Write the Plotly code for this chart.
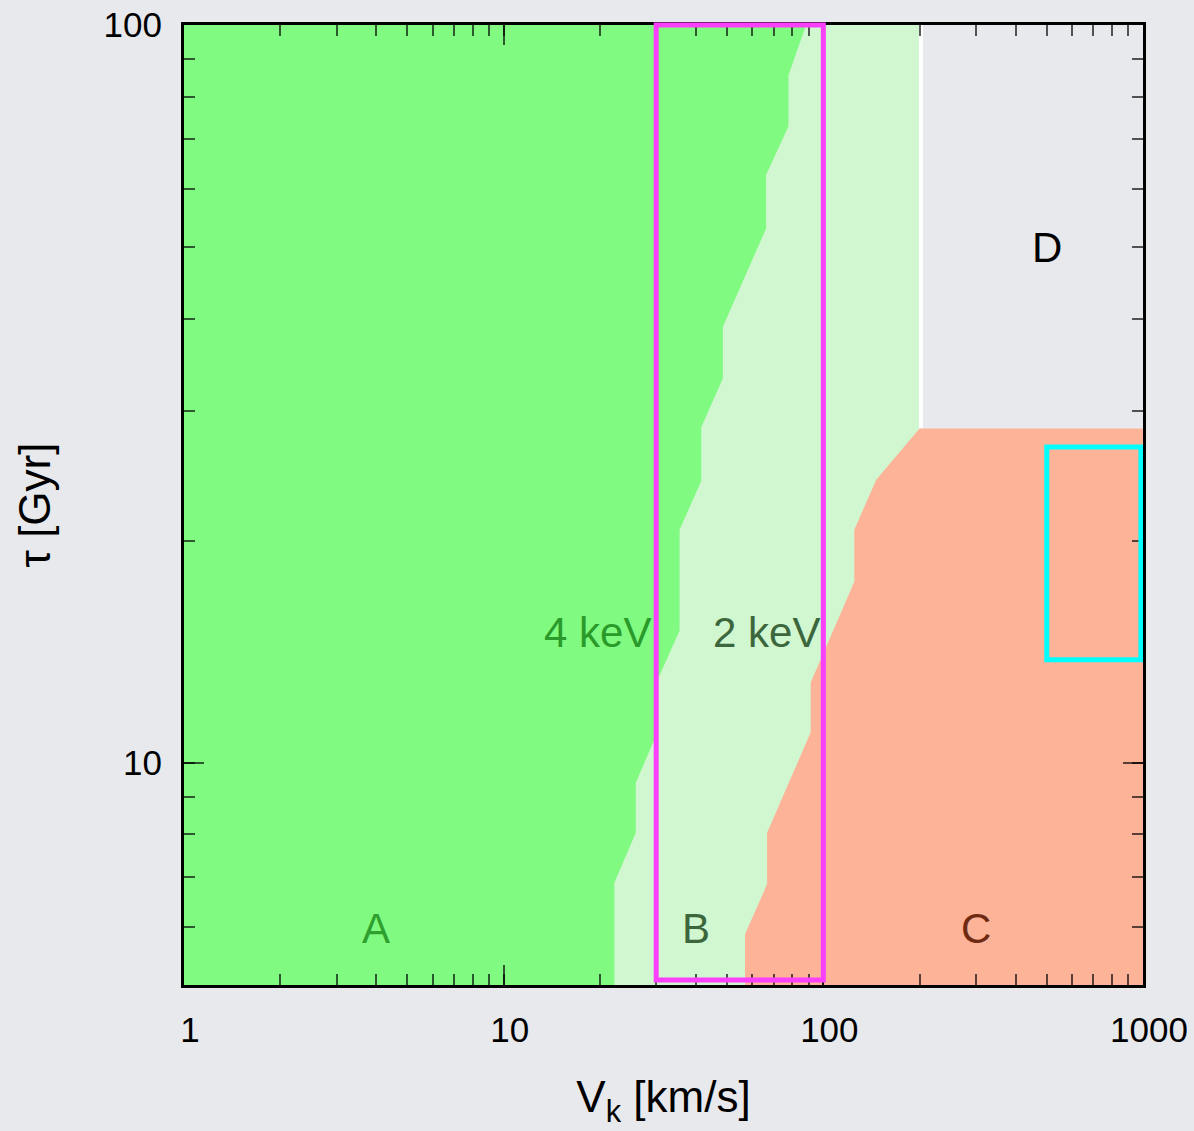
import numpy as np
import plotly.graph_objects as go

# Axis limits: kick velocity V_k [km/s] and lifetime tau [Gyr]
v_limits = [1, 1000]
tau_limits = [5, 100]

# Boundary of the 4 keV region (top to bottom)
kev4_v = [88.3, 77.8, 77.8, 66.2, 66.2, 48.5, 48.5, 41.5, 41.5,
          35.5, 35.5, 30.4, 30.4, 25.9, 25.9, 22.2, 22.2]
kev4_tau = [100, 85.5, 72.9, 62.6, 53.0, 39.0, 33.2, 28.5, 24.1,
            20.7, 15.1, 13.0, 11.05, 9.4, 8.04, 6.88, 5.0]

# Boundary of the 2 keV region (top to bottom)
kev2_v = [200, 146.4, 125, 125, 91.3, 91.3, 66.7, 66.7, 56.9, 56.9]
kev2_tau = [28.4, 24.2, 20.7, 17.6, 12.85, 11.0, 8.04, 6.85, 5.86, 5.0]

# Outer edge of region B and top of region C
b_vmax = 200
c_tau_top = 28.4

# Highlighted boxes (V range, tau range)
box_magenta_v = [30, 100]
box_magenta_tau = [5.08, 100]
box_cyan_v = [500, 985]
box_cyan_tau = [13.8, 26.8]

# Region labels: text, V, tau, colour
labels = [
    ("A", 4.0, 5.97, "#2ea02e"),
    ("B", 40.0, 5.97, "#3c663c"),
    ("C", 300.0, 5.97, "#6e2a12"),
    ("D", 500.0, 50.0, "#000000"),
    ("4 keV", 19.7, 15.0, "#2a9a2a"),
    ("2 keV", 66.4, 15.0, "#3c663c"),
]

GREEN = "#80fa80"
LIGHT_GREEN = "#d0f7d0"
SALMON = "#fdb398"
BG = "#e8e9ed"
FONT = "Liberation Sans, Arial, Helvetica, sans-serif"

fig = go.Figure()

# Region B: light green band out to b_vmax
fig.add_trace(go.Scatter(
    x=[v_limits[0], b_vmax, b_vmax, v_limits[0]],
    y=[tau_limits[0], tau_limits[0], tau_limits[1], tau_limits[1]],
    fill="toself", fillcolor=LIGHT_GREEN, mode="lines",
    line=dict(width=0), hoverinfo="skip", showlegend=False))

# White edge of region B above region C
fig.add_trace(go.Scatter(
    x=[b_vmax * 1.01, b_vmax * 1.01], y=[c_tau_top, tau_limits[1]],
    mode="lines", line=dict(color="white", width=4),
    hoverinfo="skip", showlegend=False))

# Region A: left of the 4 keV boundary
fig.add_trace(go.Scatter(
    x=[v_limits[0]] + kev4_v + [v_limits[0]],
    y=[tau_limits[1]] + kev4_tau + [tau_limits[0]],
    fill="toself", fillcolor=GREEN, mode="lines",
    line=dict(width=0), hoverinfo="skip", showlegend=False))

# Region C: right of the 2 keV boundary, below c_tau_top
fig.add_trace(go.Scatter(
    x=[v_limits[1]] + kev2_v + [v_limits[1]],
    y=[c_tau_top] + kev2_tau + [tau_limits[0]],
    fill="toself", fillcolor=SALMON, mode="lines",
    line=dict(width=0), hoverinfo="skip", showlegend=False))

ylog0, ylog1 = np.log10(tau_limits[0]), np.log10(tau_limits[1])


def tau_to_paper(t):
    return (np.log10(t) - ylog0) / (ylog1 - ylog0)


# Magenta box reaches the top frame, so only clip it horizontally
fig.add_shape(type="rect", xref="x", yref="paper",
              x0=box_magenta_v[0], x1=box_magenta_v[1],
              y0=tau_to_paper(box_magenta_tau[0]),
              y1=tau_to_paper(box_magenta_tau[1]),
              line=dict(color="#fb40fb", width=5), layer="above")

fig.add_shape(type="rect", xref="x", yref="y",
              x0=box_cyan_v[0], x1=box_cyan_v[1],
              y0=box_cyan_tau[0], y1=box_cyan_tau[1],
              line=dict(color="#00ffff", width=5), layer="above")

# Thin white halo just outside the left frame line
fig.add_shape(type="line", xref="paper", yref="paper", x0=0, x1=0, y0=0, y1=1,
              xsizemode="pixel", xanchor=0,
              line=dict(color="white", width=2), layer="below")

for text, v, t, col in labels:
    fig.add_annotation(x=np.log10(v), y=np.log10(t), text=text,
                       showarrow=False, xanchor="center", yanchor="middle",
                       font=dict(family=FONT, size=42, color=col))

tick_col = "rgba(0,0,0,0.65)"
axis_common = dict(
    type="log", showgrid=False, zeroline=False, automargin=False,
    showline=True, linecolor="black", linewidth=3, mirror="allticks",
    ticks="inside", ticklen=20, tickwidth=2, tickcolor=tick_col,
    dtick=1,
    minor=dict(ticks="inside", ticklen=11, tickwidth=2,
               tickcolor=tick_col, dtick="D1", showgrid=False),
    tickfont=dict(family=FONT, size=35, color="black"),
    layer="above traces",
)

fig.update_xaxes(
    **axis_common,
    range=[np.log10(v_limits[0]), np.log10(v_limits[1])],
    tickvals=[1, 10, 100, 1000], ticktext=["1", "10", "100", "1000"],
    ticklabelstandoff=12, ticklabelshift=6,
    title=dict(text="V<sub>k</sub> [km/s]",
               font=dict(family=FONT, size=44, color="black"), standoff=34),
)
fig.update_yaxes(
    **axis_common,
    range=[ylog0, ylog1],
    tickvals=[10, 100], ticktext=["10", "100"],
    ticklabelstandoff=12,
    title=dict(text="τ [Gyr]",
               font=dict(family=FONT, size=44, color="black"), standoff=40),
)

fig.update_layout(
    width=1194, height=1131,
    margin=dict(l=184, r=51, t=25, b=146),
    paper_bgcolor=BG, plot_bgcolor=BG,
    showlegend=False,
)

fig.write_html("out.html")
